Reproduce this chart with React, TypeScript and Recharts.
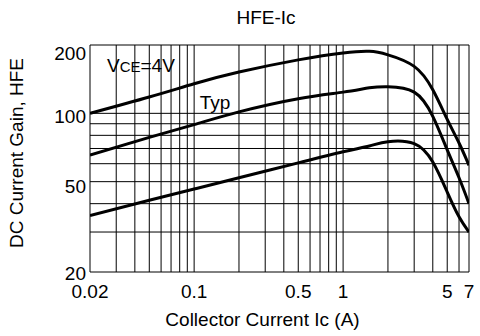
import React from "react";
import {
  LineChart,
  Line,
  XAxis,
  YAxis,
  ReferenceLine,
  ReferenceArea,
  ReferenceDot,
  Label,
} from "recharts";

// collector current (A) and DC current gain
const ic = [0.02, 0.05, 0.1, 0.2, 0.5, 1, 1.5, 2, 3, 4, 5, 6, 7];
const hfeMax = [100, 118, 135, 152, 172, 184.5, 187.5, 181, 161, 127, 94, 74, 59];
const hfeTyp = [65.5, 78.4, 89.2, 101.5, 116, 124, 129.5, 131, 124, 97, 69, 52, 40];
const hfeMin = [35.5, 41.4, 46.4, 52, 60.5, 67.7, 71.8, 75, 73.5, 61, 45, 35, 30];

const xTicks = [0.02, 0.1, 0.5, 1, 5, 7];
const yTicks = [20, 50, 100, 200];
const gridX = [
  0.03, 0.04, 0.05, 0.06, 0.07, 0.08, 0.09, 0.1, 0.2, 0.3, 0.4, 0.5, 0.6, 0.7,
  0.8, 0.9, 1, 2, 3, 4, 5, 6,
];
const gridY = [30, 40, 50, 60, 70, 80, 90, 100];

const FONT = "'Liberation Sans', Arial, sans-serif";

const data = ic.map((x, i) => ({
  ic: x,
  max: hfeMax[i],
  typ: hfeTyp[i],
  min: hfeMin[i],
}));

// the labels sit a little below their grid line, the top one more so
const yTickShift: Record<number, number> = { 20: 8, 50: 11, 100: 10, 200: 15 };

const YTick = ({ x, y, payload }: any) => (
  <text
    x={x}
    y={y}
    dy={yTickShift[payload.value] ?? 10}
    textAnchor="end"
    fill="#000"
    fontSize={19}
    fontFamily={FONT}
  >
    {payload.value}
  </text>
);

export default function App() {
  return (
    <div
      style={{
        position: "absolute",
        left: 0,
        top: 0,
        width: 480,
        height: 336,
        background: "#fff",
      }}
    >
      <svg
        width={480}
        height={40}
        style={{ position: "absolute", left: 0, top: 0 }}
      >
        <text
          x={266}
          y={24}
          textAnchor="middle"
          fontSize={19}
          fontFamily={FONT}
          fill="#000"
        >
          HFE-Ic
        </text>
      </svg>
      <LineChart
        width={480}
        height={336}
        data={data}
        margin={{ top: 45, right: 11, bottom: 0, left: 0 }}
      >
        <XAxis
          dataKey="ic"
          type="number"
          scale="log"
          domain={[0.02, 7]}
          ticks={xTicks}
          allowDataOverflow
          height={64}
          axisLine={false}
          tickLine={false}
          tickSize={6}
          tickMargin={7}
          tick={{ fill: "#000", fontSize: 19, fontFamily: FONT }}
        >
          <Label
            content={({ viewBox }: any) => (
              <text
                x={viewBox.x + viewBox.width / 2 - 17}
                y={326}
                textAnchor="middle"
                fontSize={19}
                fontFamily={FONT}
                fill="#000"
              >
                Collector Current Ic (A)
              </text>
            )}
          />
        </XAxis>
        <YAxis
          type="number"
          scale="log"
          domain={[20, 200]}
          ticks={yTicks}
          allowDataOverflow
          width={90}
          axisLine={false}
          tickLine={false}
          tickSize={4}
          tickMargin={0}
          tick={<YTick />}
        >
          <Label
            content={() => (
              <text
                x={23}
                y={153}
                transform="rotate(-90 23 153)"
                textAnchor="middle"
                fontSize={19}
                fontFamily={FONT}
                fill="#000"
              >
                DC Current Gain, HFE
              </text>
            )}
          />
        </YAxis>

        {gridX.map((v) => (
          <ReferenceLine key={"gx" + v} x={v} stroke="#000" strokeWidth={1} />
        ))}
        {gridY.map((v) => (
          <ReferenceLine key={"gy" + v} y={v} stroke="#000" strokeWidth={1} />
        ))}
        <ReferenceArea
          x1={0.02}
          x2={7}
          y1={20}
          y2={200}
          fill="none"
          fillOpacity={0}
          stroke="#000"
          strokeWidth={1}
        />

        <Line
          type="natural"
          dataKey="max"
          stroke="#000"
          strokeWidth={3}
          dot={false}
          isAnimationActive={false}
        />
        <Line
          type="natural"
          dataKey="typ"
          stroke="#000"
          strokeWidth={3}
          dot={false}
          isAnimationActive={false}
        />
        <Line
          type="natural"
          dataKey="min"
          stroke="#000"
          strokeWidth={3}
          dot={false}
          isAnimationActive={false}
        />

        <ReferenceDot
          x={0.026}
          y={152}
          r={0}
          shape={(p: any) => (
            <text x={p.cx} y={p.cy} fontSize={19} fontFamily={FONT} fill="#000">
              V<tspan fontSize={15}>CE</tspan>=4V
            </text>
          )}
        />
        <ReferenceDot
          x={0.109}
          y={105}
          r={0}
          shape={(p: any) => (
            <text x={p.cx} y={p.cy} fontSize={19} fontFamily={FONT} fill="#000">
              Typ
            </text>
          )}
        />
      </LineChart>
    </div>
  );
}
